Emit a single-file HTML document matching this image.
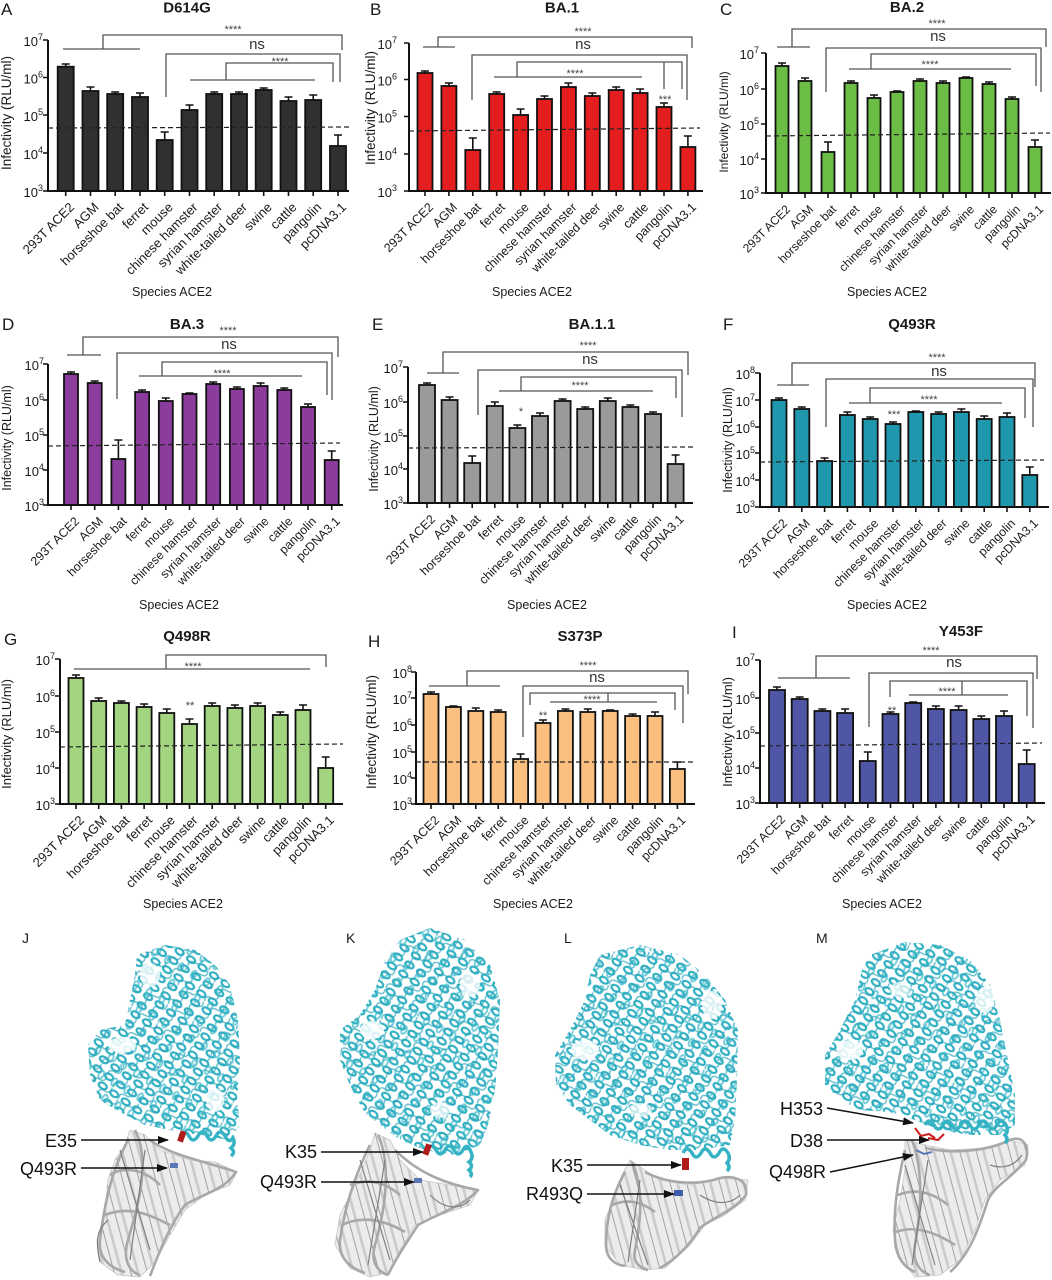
<!DOCTYPE html>
<html><head><meta charset="utf-8"><style>
html,body{margin:0;padding:0;background:#fff}
svg{display:block}
text{font-family:"Liberation Sans",Arial,sans-serif;fill:#1a1a1a}
.ax{fill:none;stroke:#111;stroke-width:2}
.tk{fill:none;stroke:#111;stroke-width:1.6}
.b rect{stroke:#111;stroke-width:1.8}
.eb{fill:none;stroke:#111;stroke-width:1.6}
.br{fill:none;stroke:#555;stroke-width:1.3}
.ds{fill:none;stroke:#222;stroke-width:1.2;stroke-dasharray:5 3}
.ti{font-size:15px;font-weight:bold}
.pl{font-size:17px}
.st{font-size:11px;fill:#444}
.ns{font-size:15px;fill:#333}
.yt{font-size:13px}
.sp{font-size:12.5px}
.lb{font-size:18px;fill:#111}
.ar{stroke:#111;stroke-width:1.5;fill:none}
.gr{fill:none;stroke:#a8a8a8;stroke-width:2.6;stroke-linejoin:round}
.gr2{fill:none;stroke:#7f7f7f;stroke-width:1.2}
.gf{fill:#ececec;stroke:#cfcfcf;stroke-width:1}
</style></head><body>
<svg width="1052" height="1280" viewBox="0 0 1052 1280" xmlns="http://www.w3.org/2000/svg">
<defs>
<pattern id="hx" width="14" height="11" patternUnits="userSpaceOnUse" patternTransform="rotate(35)">
<ellipse cx="7" cy="5.5" rx="4.5" ry="2.8" fill="none" stroke="#2fb0c2" stroke-width="2.2"/>
</pattern>
<pattern id="hx3" width="19" height="15" patternUnits="userSpaceOnUse" patternTransform="rotate(-60) translate(4,3)">
<ellipse cx="9" cy="7" rx="4" ry="2.4" fill="none" stroke="#3cb8c9" stroke-width="2"/>
</pattern>
<pattern id="hx2" width="17" height="13" patternUnits="userSpaceOnUse" patternTransform="rotate(-25)">
<path d="M0,6 q4,-6 8,0 t8,0" fill="none" stroke="#2aa5b8" stroke-width="1.5"/>
</pattern>
<pattern id="gy" width="12" height="16" patternUnits="userSpaceOnUse" patternTransform="rotate(75)">
<path d="M0,4 H12" stroke="#c9c9c9" stroke-width="2.5"/>
<path d="M0,11 H12" stroke="#9a9a9a" stroke-width="0.9"/>
</pattern>
<marker id="ah" markerWidth="11" markerHeight="8" refX="10" refY="4" orient="auto" markerUnits="userSpaceOnUse"><path d="M0,0 L11,4 L0,8 z" fill="#111"/></marker>
</defs>
<rect width="1052" height="1280" fill="#fff"/>

<!-- ================= PANEL A ================= -->
<text class="pl" x="1" y="15">A</text>
<text class="ti" x="187" y="12.5" text-anchor="middle">D614G</text>
<text transform="translate(11,113) rotate(-90)" text-anchor="middle" font-size="13.5">Infectivity (RLU/ml)</text>
<g class="yt" text-anchor="end">
<text x="43" y="46">10<tspan font-size="9" dy="-6">7</tspan></text>
<text x="43" y="83.5">10<tspan font-size="9" dy="-6">6</tspan></text>
<text x="43" y="121">10<tspan font-size="9" dy="-6">5</tspan></text>
<text x="43" y="159">10<tspan font-size="9" dy="-6">4</tspan></text>
<text x="43" y="197">10<tspan font-size="9" dy="-6">3</tspan></text>
</g>
<g class="b" fill="#303030">
<rect x="57.7" y="66.7" width="16" height="124.3"/><rect x="82.5" y="91" width="16" height="100"/><rect x="107.2" y="94" width="16" height="97"/><rect x="132" y="97" width="16" height="94"/><rect x="156.7" y="140" width="16" height="51"/><rect x="181.5" y="110" width="16" height="81"/><rect x="206.2" y="94" width="16" height="97"/><rect x="231" y="94" width="16" height="97"/><rect x="255.7" y="90" width="16" height="101"/><rect x="280.5" y="101" width="16" height="90"/><rect x="305.2" y="100" width="16" height="91"/><rect x="330" y="146" width="16" height="45"/>
</g>
<path class="eb" d="M65.7,66.7V64M61.7,64h8M90.5,91V87M86.5,87h8M115.2,94V92M111.2,92h8M140,97V93M136,93h8M164.7,140V132M160.7,132h8M189.5,110V105M185.5,105h8M214.2,94V92M210.2,92h8M239,94V92M235,92h8M263.7,90V88M259.7,88h8M288.5,101V97M284.5,97h8M313.2,100V95M309.2,95h8M338,146V135M334,135h8"/>
<path class="ax" d="M48,40V191H349"/>
<path class="tk" d="M43,40H48M43,77.5H48M43,115H48M43,153H48M43,191H48M65.7,191v5M90.5,191v5M115.2,191v5M140,191v5M164.7,191v5M189.5,191v5M214.2,191v5M239,191v5M263.7,191v5M288.5,191v5M313.2,191v5M338,191v5"/>
<path class="ds" d="M48,128L352,127"/>
<path class="br" d="M63,49H140M103,49V35H342V50M166,97V54H340V82M190,80H315M226,80V63H333V82"/>
<text class="st" x="233" y="33" text-anchor="middle">****</text>
<text class="ns" x="257" y="49" text-anchor="middle">ns</text>
<text class="st" x="280" y="65" text-anchor="middle">****</text>
<g font-size="13" text-anchor="end">
<text transform="translate(75,208) rotate(-45)">293T ACE2</text>
<text transform="translate(99.5,208) rotate(-45)">AGM</text>
<text transform="translate(124.2,208) rotate(-45)">horseshoe bat</text>
<text transform="translate(149,208) rotate(-45)">ferret</text>
<text transform="translate(173.7,208) rotate(-45)">mouse</text>
<text transform="translate(198.5,208) rotate(-45)">chinese hamster</text>
<text transform="translate(223.2,208) rotate(-45)">syrian hamster</text>
<text transform="translate(248,208) rotate(-45)">white-tailed deer</text>
<text transform="translate(272.7,208) rotate(-45)">swine</text>
<text transform="translate(297.5,208) rotate(-45)">cattle</text>
<text transform="translate(322.2,208) rotate(-45)">pangolin</text>
<text transform="translate(347,208) rotate(-45)">pcDNA3.1</text>
</g>
<text class="sp" x="172" y="296" text-anchor="middle">Species ACE2</text>

<!-- ================= PANEL B ================= -->
<text class="pl" x="370" y="15">B</text>
<text class="ti" x="562" y="12.5" text-anchor="middle">BA.1</text>
<text transform="translate(375,108) rotate(-90)" text-anchor="middle" font-size="13.5">Infectivity (RLU/ml)</text>
<g class="yt" text-anchor="end">
<text x="397" y="49">10<tspan font-size="9" dy="-6">7</tspan></text>
<text x="397" y="85.5">10<tspan font-size="9" dy="-6">6</tspan></text>
<text x="397" y="122.5">10<tspan font-size="9" dy="-6">5</tspan></text>
<text x="397" y="160">10<tspan font-size="9" dy="-6">4</tspan></text>
<text x="397" y="197">10<tspan font-size="9" dy="-6">3</tspan></text>
</g>
<g class="b" fill="#e41e1e">
<rect x="417.5" y="73" width="15" height="118"/><rect x="441.4" y="86" width="15" height="105"/><rect x="465.3" y="150" width="15" height="41"/><rect x="489.2" y="94" width="15" height="97"/><rect x="513.1" y="115" width="15" height="76"/><rect x="537" y="99" width="15" height="92"/><rect x="560.9" y="87" width="15" height="104"/><rect x="584.8" y="96" width="15" height="95"/><rect x="608.7" y="90" width="15" height="101"/><rect x="632.6" y="93" width="15" height="98"/><rect x="656.5" y="107" width="15" height="84"/><rect x="680.4" y="147" width="15" height="44"/>
</g>
<path class="eb" d="M425,73V71M421,71h8M448.9,86V83M444.9,83h8M472.8,150V138M468.8,138h8M496.7,94V92M492.7,92h8M520.6,115V109M516.6,109h8M544.5,99V96M540.5,96h8M568.4,87V83M564.4,83h8M592.3,96V93M588.3,93h8M616.2,90V87M612.2,87h8M640.1,93V89M636.1,89h8M664,107V103M660,103h8M687.9,147V136M683.9,136h8"/>
<path class="ax" d="M409,43V191H703"/>
<path class="tk" d="M404,43H409M404,79.5H409M404,116.5H409M404,154H409M404,191H409M425,191v5M448.9,191v5M472.8,191v5M496.7,191v5M520.6,191v5M544.5,191v5M568.4,191v5M592.3,191v5M616.2,191v5M640.1,191v5M664,191v5M687.9,191v5"/>
<path class="ds" d="M409,131L700,128"/>
<path class="br" d="M423,47H455M438,47V37H692V48M472,100V55H687V100M494,77H642M517,77V62H682V89M664,62V89"/>
<text class="st" x="583" y="35" text-anchor="middle">****</text>
<text class="ns" x="583" y="49" text-anchor="middle">ns</text>
<text class="st" x="575" y="77" text-anchor="middle">****</text>
<text class="st" x="665" y="103" text-anchor="middle">***</text>
<g font-size="12.5" text-anchor="end">
<text transform="translate(434,208) rotate(-45)">293T ACE2</text>
<text transform="translate(457.9,208) rotate(-45)">AGM</text>
<text transform="translate(481.8,208) rotate(-45)">horseshoe bat</text>
<text transform="translate(505.7,208) rotate(-45)">ferret</text>
<text transform="translate(529.6,208) rotate(-45)">mouse</text>
<text transform="translate(553.5,208) rotate(-45)">chinese hamster</text>
<text transform="translate(577.4,208) rotate(-45)">syrian hamster</text>
<text transform="translate(601.3,208) rotate(-45)">white-tailed deer</text>
<text transform="translate(625.2,208) rotate(-45)">swine</text>
<text transform="translate(649.1,208) rotate(-45)">cattle</text>
<text transform="translate(673,208) rotate(-45)">pangolin</text>
<text transform="translate(696.9,208) rotate(-45)">pcDNA3.1</text>
</g>
<text class="sp" x="532" y="296" text-anchor="middle">Species ACE2</text>

<!-- ================= PANEL C ================= -->
<text class="pl" x="720" y="15">C</text>
<text class="ti" x="907" y="12" text-anchor="middle">BA.2</text>
<text transform="translate(728,122) rotate(-90)" text-anchor="middle" font-size="12">Infectivity (RLU/ml)</text>
<g class="yt" text-anchor="end">
<text x="759" y="59">10<tspan font-size="9" dy="-6">7</tspan></text>
<text x="759" y="95">10<tspan font-size="9" dy="-6">6</tspan></text>
<text x="759" y="130">10<tspan font-size="9" dy="-6">5</tspan></text>
<text x="759" y="165">10<tspan font-size="9" dy="-6">4</tspan></text>
<text x="759" y="199">10<tspan font-size="9" dy="-6">3</tspan></text>
</g>
<g class="b" fill="#6cbd45">
<rect x="775.5" y="66" width="13" height="127"/><rect x="798.5" y="81" width="13" height="112"/><rect x="821.5" y="152" width="13" height="41"/><rect x="844.5" y="83" width="13" height="110"/><rect x="867.5" y="98" width="13" height="95"/><rect x="890.5" y="92" width="13" height="101"/><rect x="913.5" y="81" width="13" height="112"/><rect x="936.5" y="83" width="13" height="110"/><rect x="959.5" y="78" width="13" height="115"/><rect x="982.5" y="84" width="13" height="109"/><rect x="1005.5" y="99" width="13" height="94"/><rect x="1028.5" y="147" width="13" height="46"/>
</g>
<path class="eb" d="M782,66V63M778,63h8M805,81V78M801,78h8M828,152V142M824,142h8M851,83V81M847,81h8M874,98V95M870,95h8M897,92V91M893,91h8M920,81V79M916,79h8M943,83V81M939,81h8M966,78V77M962,77h8M989,84V82M985,82h8M1012,99V97M1008,97h8M1035,147V140M1031,140h8"/>
<path class="ax" d="M766,53V193H1051"/>
<path class="tk" d="M761,53H766M761,89H766M761,124H766M761,159H766M761,193H766M782,193v5M805,193v5M828,193v5M851,193v5M874,193v5M897,193v5M920,193v5M943,193v5M966,193v5M989,193v5M1012,193v5M1035,193v5"/>
<path class="ds" d="M766,136L1050,133"/>
<path class="br" d="M777,47H810M792,47V29H1046V47M826,92V48H1041V92M849,69H1011M871,69V54H1036V86"/>
<text class="st" x="937" y="27" text-anchor="middle">****</text>
<text class="ns" x="938" y="41" text-anchor="middle">ns</text>
<text class="st" x="930" y="68" text-anchor="middle">****</text>
<g font-size="12" text-anchor="end">
<text transform="translate(791,210) rotate(-45)">293T ACE2</text>
<text transform="translate(814,210) rotate(-45)">AGM</text>
<text transform="translate(837,210) rotate(-45)">horseshoe bat</text>
<text transform="translate(860,210) rotate(-45)">ferret</text>
<text transform="translate(883,210) rotate(-45)">mouse</text>
<text transform="translate(906,210) rotate(-45)">chinese hamster</text>
<text transform="translate(929,210) rotate(-45)">syrian hamster</text>
<text transform="translate(952,210) rotate(-45)">white-tailed deer</text>
<text transform="translate(975,210) rotate(-45)">swine</text>
<text transform="translate(998,210) rotate(-45)">cattle</text>
<text transform="translate(1021,210) rotate(-45)">pangolin</text>
<text transform="translate(1044,210) rotate(-45)">pcDNA3.1</text>
</g>
<text class="sp" x="887" y="296" text-anchor="middle">Species ACE2</text>

<!-- ================= PANEL D ================= -->
<text class="pl" x="2" y="330">D</text>
<text class="ti" x="187" y="329" text-anchor="middle">BA.3</text>
<text transform="translate(11,438) rotate(-90)" text-anchor="middle" font-size="12.5">Infectivity (RLU/ml)</text>
<g class="yt" text-anchor="end">
<text x="44" y="370">10<tspan font-size="9" dy="-6">7</tspan></text>
<text x="44" y="406">10<tspan font-size="9" dy="-6">6</tspan></text>
<text x="44" y="441">10<tspan font-size="9" dy="-6">5</tspan></text>
<text x="44" y="476">10<tspan font-size="9" dy="-6">4</tspan></text>
<text x="44" y="511">10<tspan font-size="9" dy="-6">3</tspan></text>
</g>
<g class="b" fill="#8b3c9c">
<rect x="64" y="374" width="14" height="131"/><rect x="87.7" y="383" width="14" height="122"/><rect x="111.4" y="459" width="14" height="46"/><rect x="135.1" y="392" width="14" height="113"/><rect x="158.8" y="401" width="14" height="104"/><rect x="182.5" y="394" width="14" height="111"/><rect x="206.2" y="384" width="14" height="121"/><rect x="229.9" y="389" width="14" height="116"/><rect x="253.6" y="386" width="14" height="119"/><rect x="277.3" y="390" width="14" height="115"/><rect x="301" y="407" width="14" height="98"/><rect x="324.7" y="460" width="14" height="45"/>
</g>
<path class="eb" d="M71,374V372M67,372h8M94.7,383V381M90.7,381h8M118.4,459V440M114.4,440h8M142.1,392V390M138.1,390h8M165.8,401V398M161.8,398h8M189.5,394V393M185.5,393h8M213.2,384V382M209.2,382h8M236.9,389V387M232.9,387h8M260.6,386V383M256.6,383h8M284.3,390V388M280.3,388h8M308,407V404M304,404h8M331.7,460V451M327.7,451h8"/>
<path class="ax" d="M48,364V505H343"/>
<path class="tk" d="M43,364H48M43,400H48M43,435H48M43,470H48M43,505H48M71,505v5M94.7,505v5M118.4,505v5M142.1,505v5M165.8,505v5M189.5,505v5M213.2,505v5M236.9,505v5M260.6,505v5M284.3,505v5M308,505v5M331.7,505v5"/>
<path class="ds" d="M48,446L340,443"/>
<path class="br" d="M67,355H101M83,355V337H338V357M117,399V353H332V400M139,376H302M162,376V362H327V395"/>
<text class="st" x="228" y="334" text-anchor="middle">****</text>
<text class="ns" x="229" y="349" text-anchor="middle">ns</text>
<text class="st" x="222" y="377" text-anchor="middle">****</text>
<g font-size="12.3" text-anchor="end">
<text transform="translate(80,522) rotate(-45)">293T ACE2</text>
<text transform="translate(103.7,522) rotate(-45)">AGM</text>
<text transform="translate(127.4,522) rotate(-45)">horseshoe bat</text>
<text transform="translate(151.1,522) rotate(-45)">ferret</text>
<text transform="translate(174.8,522) rotate(-45)">mouse</text>
<text transform="translate(198.5,522) rotate(-45)">chinese hamster</text>
<text transform="translate(222.2,522) rotate(-45)">syrian hamster</text>
<text transform="translate(245.9,522) rotate(-45)">white-tailed deer</text>
<text transform="translate(269.6,522) rotate(-45)">swine</text>
<text transform="translate(293.3,522) rotate(-45)">cattle</text>
<text transform="translate(317,522) rotate(-45)">pangolin</text>
<text transform="translate(340.7,522) rotate(-45)">pcDNA3.1</text>
</g>
<text class="sp" x="179" y="609" text-anchor="middle">Species ACE2</text>

<!-- ================= PANEL E ================= -->
<text class="pl" x="372" y="330">E</text>
<text class="ti" x="592" y="329" text-anchor="middle">BA.1.1</text>
<text transform="translate(378,439) rotate(-90)" text-anchor="middle" font-size="12.5">Infectivity (RLU/ml)</text>
<g class="yt" text-anchor="end">
<text x="403" y="373">10<tspan font-size="9" dy="-6">7</tspan></text>
<text x="403" y="408">10<tspan font-size="9" dy="-6">6</tspan></text>
<text x="403" y="442">10<tspan font-size="9" dy="-6">5</tspan></text>
<text x="403" y="475">10<tspan font-size="9" dy="-6">4</tspan></text>
<text x="403" y="509">10<tspan font-size="9" dy="-6">3</tspan></text>
</g>
<g class="b" fill="#9a9a9a">
<rect x="419" y="385" width="16" height="118"/><rect x="441.6" y="400" width="16" height="103"/><rect x="464.2" y="463" width="16" height="40"/><rect x="486.8" y="406" width="16" height="97"/><rect x="509.4" y="428" width="16" height="75"/><rect x="532" y="416" width="16" height="87"/><rect x="554.6" y="401" width="16" height="102"/><rect x="577.2" y="409" width="16" height="94"/><rect x="599.8" y="401" width="16" height="102"/><rect x="622.4" y="407" width="16" height="96"/><rect x="645" y="414" width="16" height="89"/><rect x="667.6" y="464" width="16" height="39"/>
</g>
<path class="eb" d="M427,385V383M423,383h8M449.6,400V397M445.6,397h8M472.2,463V456M468.2,456h8M494.8,406V402M490.8,402h8M517.4,428V425M513.4,425h8M540,416V413M536,413h8M562.6,401V399M558.6,399h8M585.2,409V407M581.2,407h8M607.8,401V398M603.8,398h8M630.4,407V405M626.4,405h8M653,414V412M649,412h8M675.6,464V455M671.6,455h8"/>
<path class="ax" d="M408,367V503H693"/>
<path class="tk" d="M403,367H408M403,402H408M403,436H408M403,469H408M403,503H408M427,503v5M449.6,503v5M472.2,503v5M494.8,503v5M517.4,503v5M540,503v5M562.6,503v5M585.2,503v5M607.8,503v5M630.4,503v5M653,503v5M675.6,503v5"/>
<path class="ds" d="M408,448L693,447"/>
<path class="br" d="M427,373H459M443,373V352H688V375M478,415V370H682V417M499,391H653M521,391V377H676V398"/>
<text class="st" x="588" y="349" text-anchor="middle">****</text>
<text class="ns" x="590" y="364" text-anchor="middle">ns</text>
<text class="st" x="580" y="389" text-anchor="middle">****</text>
<text class="st" x="521" y="415" text-anchor="middle">*</text>
<g font-size="12.5" text-anchor="end">
<text transform="translate(436,520) rotate(-45)">293T ACE2</text>
<text transform="translate(458.6,520) rotate(-45)">AGM</text>
<text transform="translate(481.2,520) rotate(-45)">horseshoe bat</text>
<text transform="translate(503.8,520) rotate(-45)">ferret</text>
<text transform="translate(526.4,520) rotate(-45)">mouse</text>
<text transform="translate(549,520) rotate(-45)">chinese hamster</text>
<text transform="translate(571.6,520) rotate(-45)">syrian hamster</text>
<text transform="translate(594.2,520) rotate(-45)">white-tailed deer</text>
<text transform="translate(616.8,520) rotate(-45)">swine</text>
<text transform="translate(639.4,520) rotate(-45)">cattle</text>
<text transform="translate(662,520) rotate(-45)">pangolin</text>
<text transform="translate(684.6,520) rotate(-45)">pcDNA3.1</text>
</g>
<text class="sp" x="547" y="609" text-anchor="middle">Species ACE2</text>

<!-- ================= PANEL F ================= -->
<text class="pl" x="723" y="330">F</text>
<text class="ti" x="912" y="329" text-anchor="middle">Q493R</text>
<text transform="translate(732,440) rotate(-90)" text-anchor="middle" font-size="12.5">Infectivity (RLU/ml)</text>
<g class="yt" text-anchor="end">
<text x="755" y="379">10<tspan font-size="9" dy="-6">8</tspan></text>
<text x="755" y="406">10<tspan font-size="9" dy="-6">7</tspan></text>
<text x="755" y="433">10<tspan font-size="9" dy="-6">6</tspan></text>
<text x="755" y="459">10<tspan font-size="9" dy="-6">5</tspan></text>
<text x="755" y="486">10<tspan font-size="9" dy="-6">4</tspan></text>
<text x="755" y="513">10<tspan font-size="9" dy="-6">3</tspan></text>
</g>
<g class="b" fill="#1f98ad">
<rect x="771.5" y="400" width="15" height="107"/><rect x="794.3" y="409" width="15" height="98"/><rect x="817.1" y="461" width="15" height="46"/><rect x="839.9" y="415" width="15" height="92"/><rect x="862.7" y="419" width="15" height="88"/><rect x="885.5" y="424" width="15" height="83"/><rect x="908.3" y="412" width="15" height="95"/><rect x="931.1" y="414" width="15" height="93"/><rect x="953.9" y="412" width="15" height="95"/><rect x="976.7" y="419" width="15" height="88"/><rect x="999.5" y="417" width="15" height="90"/><rect x="1022.3" y="475" width="15" height="32"/>
</g>
<path class="eb" d="M779,400V398M775,398h8M801.8,409V407M797.8,407h8M824.6,461V458M820.6,458h8M847.4,415V412M843.4,412h8M870.2,419V417M866.2,417h8M893,424V422M889,422h8M915.8,412V411M911.8,411h8M938.6,414V412M934.6,412h8M961.4,412V409M957.4,409h8M984.2,419V416M980.2,416h8M1007,417V413M1003,413h8M1029.8,475V467M1025.8,467h8"/>
<path class="ax" d="M760,373V507H1049"/>
<path class="tk" d="M755,373H760M755,400H760M755,427H760M755,453H760M755,480H760M755,507H760M779,507v5M801.8,507v5M824.6,507v5M847.4,507v5M870.2,507v5M893,507v5M915.8,507v5M938.6,507v5M961.4,507v5M984.2,507v5M1007,507v5M1029.8,507v5"/>
<path class="ds" d="M760,462L1044,460"/>
<path class="br" d="M777,385H809M792,385V363H1035V387M826,427V379H1033V427M849,403H1002M870,403V388H1025V418"/>
<text class="st" x="937" y="361" text-anchor="middle">****</text>
<text class="ns" x="939" y="376" text-anchor="middle">ns</text>
<text class="st" x="929" y="403" text-anchor="middle">****</text>
<text class="st" x="894" y="418" text-anchor="middle">***</text>
<g font-size="12.3" text-anchor="end">
<text transform="translate(788,524) rotate(-45)">293T ACE2</text>
<text transform="translate(810.8,524) rotate(-45)">AGM</text>
<text transform="translate(833.6,524) rotate(-45)">horseshoe bat</text>
<text transform="translate(856.4,524) rotate(-45)">ferret</text>
<text transform="translate(879.2,524) rotate(-45)">mouse</text>
<text transform="translate(902,524) rotate(-45)">chinese hamster</text>
<text transform="translate(924.8,524) rotate(-45)">syrian hamster</text>
<text transform="translate(947.6,524) rotate(-45)">white-tailed deer</text>
<text transform="translate(970.4,524) rotate(-45)">swine</text>
<text transform="translate(993.2,524) rotate(-45)">cattle</text>
<text transform="translate(1016,524) rotate(-45)">pangolin</text>
<text transform="translate(1038.8,524) rotate(-45)">pcDNA3.1</text>
</g>
<text class="sp" x="887" y="609" text-anchor="middle">Species ACE2</text>

<!-- ================= PANEL G ================= -->
<text class="pl" x="4" y="645">G</text>
<text class="ti" x="187" y="641" text-anchor="middle">Q498R</text>
<text transform="translate(11,734) rotate(-90)" text-anchor="middle" font-size="13">Infectivity (RLU/ml)</text>
<g class="yt" text-anchor="end">
<text x="55" y="665">10<tspan font-size="9" dy="-6">7</tspan></text>
<text x="55" y="702">10<tspan font-size="9" dy="-6">6</tspan></text>
<text x="55" y="738">10<tspan font-size="9" dy="-6">5</tspan></text>
<text x="55" y="774">10<tspan font-size="9" dy="-6">4</tspan></text>
<text x="55" y="810">10<tspan font-size="9" dy="-6">3</tspan></text>
</g>
<g class="b" fill="#a3d47f">
<rect x="68.5" y="678" width="15" height="126"/><rect x="91.2" y="701" width="15" height="103"/><rect x="113.9" y="703" width="15" height="101"/><rect x="136.6" y="707" width="15" height="97"/><rect x="159.3" y="713" width="15" height="91"/><rect x="182" y="724" width="15" height="80"/><rect x="204.7" y="706" width="15" height="98"/><rect x="227.4" y="708" width="15" height="96"/><rect x="250.1" y="706" width="15" height="98"/><rect x="272.8" y="715" width="15" height="89"/><rect x="295.5" y="710" width="15" height="94"/><rect x="318.2" y="768" width="15" height="36"/>
</g>
<path class="eb" d="M76,678V675M72,675h8M98.7,701V698M94.7,698h8M121.4,703V701M117.4,701h8M144.1,707V704M140.1,704h8M166.8,713V709M162.8,709h8M189.5,724V719M185.5,719h8M212.2,706V703M208.2,703h8M234.9,708V705M230.9,705h8M257.6,706V703M253.6,703h8M280.3,715V712M276.3,712h8M303,710V705M299,705h8M325.7,768V757M321.7,757h8"/>
<path class="ax" d="M60,659V804H343"/>
<path class="tk" d="M55,659H60M55,696H60M55,732H60M55,768H60M55,804H60M76,804v5M98.7,804v5M121.4,804v5M144.1,804v5M166.8,804v5M189.5,804v5M212.2,804v5M234.9,804v5M257.6,804v5M280.3,804v5M303,804v5M325.7,804v5"/>
<path class="ds" d="M60,747L343,744"/>
<path class="br" d="M74,669H310M166,669V655H326V667"/>
<text class="st" x="193" y="670" text-anchor="middle">****</text>
<text class="st" x="190" y="709" text-anchor="middle">**</text>
<g font-size="13" text-anchor="end">
<text transform="translate(85,821) rotate(-45)">293T ACE2</text>
<text transform="translate(107.7,821) rotate(-45)">AGM</text>
<text transform="translate(130.4,821) rotate(-45)">horseshoe bat</text>
<text transform="translate(153.1,821) rotate(-45)">ferret</text>
<text transform="translate(175.8,821) rotate(-45)">mouse</text>
<text transform="translate(198.5,821) rotate(-45)">chinese hamster</text>
<text transform="translate(221.2,821) rotate(-45)">syrian hamster</text>
<text transform="translate(243.9,821) rotate(-45)">white-tailed deer</text>
<text transform="translate(266.6,821) rotate(-45)">swine</text>
<text transform="translate(289.3,821) rotate(-45)">cattle</text>
<text transform="translate(312,821) rotate(-45)">pangolin</text>
<text transform="translate(334.7,821) rotate(-45)">pcDNA3.1</text>
</g>
<text class="sp" x="183" y="908" text-anchor="middle">Species ACE2</text>

<!-- ================= PANEL H ================= -->
<text class="pl" x="368" y="647">H</text>
<text class="ti" x="580" y="641" text-anchor="middle">S373P</text>
<text transform="translate(376,732) rotate(-90)" text-anchor="middle" font-size="13.5">Infectivity (RLU/ml)</text>
<g class="yt" text-anchor="end">
<text x="412" y="678">10<tspan font-size="9" dy="-6">8</tspan></text>
<text x="412" y="704">10<tspan font-size="9" dy="-6">7</tspan></text>
<text x="412" y="731">10<tspan font-size="9" dy="-6">6</tspan></text>
<text x="412" y="758">10<tspan font-size="9" dy="-6">5</tspan></text>
<text x="412" y="784">10<tspan font-size="9" dy="-6">4</tspan></text>
<text x="412" y="810">10<tspan font-size="9" dy="-6">3</tspan></text>
</g>
<g class="b" fill="#fbbf7f">
<rect x="423.5" y="694" width="15" height="110"/><rect x="445.9" y="707" width="15" height="97"/><rect x="468.3" y="711" width="15" height="93"/><rect x="490.7" y="712" width="15" height="92"/><rect x="513.1" y="759" width="15" height="45"/><rect x="535.5" y="723" width="15" height="81"/><rect x="557.9" y="711" width="15" height="93"/><rect x="580.3" y="712" width="15" height="92"/><rect x="602.7" y="711" width="15" height="93"/><rect x="625.1" y="716" width="15" height="88"/><rect x="647.5" y="716" width="15" height="88"/><rect x="669.9" y="769" width="15" height="35"/>
</g>
<path class="eb" d="M431,694V692M427,692h8M453.4,707V706M449.4,706h8M475.8,711V708M471.8,708h8M498.2,712V710M494.2,710h8M520.6,759V754M516.6,754h8M543,723V720M539,720h8M565.4,711V709M561.4,709h8M587.8,712V709M583.8,709h8M610.2,711V710M606.2,710h8M632.6,716V714M628.6,714h8M655,716V712M651,712h8M677.4,769V762M673.4,762h8"/>
<path class="ax" d="M416,672V804H695"/>
<path class="tk" d="M411,672H416M411,698H416M411,725H416M411,752H416M411,778H416M411,804H416M431,804v5M453.4,804v5M475.8,804v5M498.2,804v5M520.6,804v5M543,804v5M565.4,804v5M587.8,804v5M610.2,804v5M632.6,804v5M655,804v5M677.4,804v5"/>
<path class="ds" d="M416,762L695,762"/>
<path class="br" d="M429,686H500M467,686V671H688V694M523,737V686H683V723M530,705V693H675V710M550,702H657M608,693V702"/>
<text class="st" x="588" y="669" text-anchor="middle">****</text>
<text class="ns" x="597" y="682" text-anchor="middle">ns</text>
<text class="st" x="592" y="703" text-anchor="middle">****</text>
<text class="st" x="543" y="719" text-anchor="middle">**</text>
<g font-size="12.5" text-anchor="end">
<text transform="translate(440,821) rotate(-45)">293T ACE2</text>
<text transform="translate(462.4,821) rotate(-45)">AGM</text>
<text transform="translate(484.8,821) rotate(-45)">horseshoe bat</text>
<text transform="translate(507.2,821) rotate(-45)">ferret</text>
<text transform="translate(529.6,821) rotate(-45)">mouse</text>
<text transform="translate(552,821) rotate(-45)">chinese hamster</text>
<text transform="translate(574.4,821) rotate(-45)">syrian hamster</text>
<text transform="translate(596.8,821) rotate(-45)">white-tailed deer</text>
<text transform="translate(619.2,821) rotate(-45)">swine</text>
<text transform="translate(641.6,821) rotate(-45)">cattle</text>
<text transform="translate(664,821) rotate(-45)">pangolin</text>
<text transform="translate(686.4,821) rotate(-45)">pcDNA3.1</text>
</g>
<text class="sp" x="533" y="908" text-anchor="middle">Species ACE2</text>

<!-- ================= PANEL I ================= -->
<text class="pl" x="732" y="638">I</text>
<text class="ti" x="961" y="636" text-anchor="middle">Y453F</text>
<text transform="translate(732,732) rotate(-90)" text-anchor="middle" font-size="13">Infectivity (RLU/ml)</text>
<g class="yt" text-anchor="end">
<text x="755" y="666">10<tspan font-size="9" dy="-6">7</tspan></text>
<text x="755" y="704">10<tspan font-size="9" dy="-6">6</tspan></text>
<text x="755" y="739">10<tspan font-size="9" dy="-6">5</tspan></text>
<text x="755" y="774">10<tspan font-size="9" dy="-6">4</tspan></text>
<text x="755" y="809">10<tspan font-size="9" dy="-6">3</tspan></text>
</g>
<g class="b" fill="#4f56a6">
<rect x="769" y="690" width="16" height="113"/><rect x="791.7" y="699" width="16" height="104"/><rect x="814.4" y="711" width="16" height="92"/><rect x="837.1" y="713" width="16" height="90"/><rect x="859.8" y="761" width="16" height="42"/><rect x="882.5" y="714" width="16" height="89"/><rect x="905.2" y="703" width="16" height="100"/><rect x="927.9" y="709" width="16" height="94"/><rect x="950.6" y="710" width="16" height="93"/><rect x="973.3" y="719" width="16" height="84"/><rect x="996" y="716" width="16" height="87"/><rect x="1018.7" y="764" width="16" height="39"/>
</g>
<path class="eb" d="M777,690V687M773,687h8M799.7,699V697M795.7,697h8M822.4,711V709M818.4,709h8M845.1,713V709M841.1,709h8M867.8,761V752M863.8,752h8M890.5,714V712M886.5,712h8M913.2,703V702M909.2,702h8M935.9,709V706M931.9,706h8M958.6,710V706M954.6,706h8M981.3,719V716M977.3,716h8M1004,716V711M1000,711h8M1026.7,764V750M1022.7,750h8"/>
<path class="ax" d="M760,660V803H1045"/>
<path class="tk" d="M755,660H760M755,698H760M755,733H760M755,768H760M755,803H760M777,803v5M799.7,803v5M822.4,803v5M845.1,803v5M867.8,803v5M890.5,803v5M913.2,803v5M935.9,803v5M958.6,803v5M981.3,803v5M1004,803v5M1026.7,803v5"/>
<path class="ds" d="M760,746L1042,743"/>
<path class="br" d="M778,678H850M816,678V656H1037V679M869,727V673H1033V728M890,697V681H1027V716M909,695H1008M962,681V695"/>
<text class="st" x="931" y="654" text-anchor="middle">****</text>
<text class="ns" x="954" y="667" text-anchor="middle">ns</text>
<text class="st" x="947" y="695" text-anchor="middle">****</text>
<text class="st" x="892" y="714" text-anchor="middle">**</text>
<g font-size="12.3" text-anchor="end">
<text transform="translate(786,820) rotate(-45)">293T ACE2</text>
<text transform="translate(808.7,820) rotate(-45)">AGM</text>
<text transform="translate(831.4,820) rotate(-45)">horseshoe bat</text>
<text transform="translate(854.1,820) rotate(-45)">ferret</text>
<text transform="translate(876.8,820) rotate(-45)">mouse</text>
<text transform="translate(899.5,820) rotate(-45)">chinese hamster</text>
<text transform="translate(922.2,820) rotate(-45)">syrian hamster</text>
<text transform="translate(944.9,820) rotate(-45)">white-tailed deer</text>
<text transform="translate(967.6,820) rotate(-45)">swine</text>
<text transform="translate(990.3,820) rotate(-45)">cattle</text>
<text transform="translate(1013,820) rotate(-45)">pangolin</text>
<text transform="translate(1035.7,820) rotate(-45)">pcDNA3.1</text>
</g>
<text class="sp" x="882" y="908" text-anchor="middle">Species ACE2</text>

<!-- ================= STRUCTURES J-M ================= -->
<g font-size="14">
<text x="22" y="943">J</text>
<text x="346" y="943">K</text>
<text x="564" y="943">L</text>
<text x="816" y="943">M</text>
</g>

<!-- J -->
<g>
<path class="gf" d="M130,1130L145,1135L160,1150L190,1160L215,1162L237,1172L230,1185L205,1195L185,1210L170,1235L155,1262L140,1277L118,1275L100,1262L97,1240L105,1210L108,1180L115,1160L125,1145Z"/>
<path d="M130,1130L145,1135L160,1150L190,1160L215,1162L237,1172L230,1185L205,1195L185,1210L170,1235L155,1262L140,1277L118,1275L100,1262L97,1240L105,1210L108,1180L115,1160L125,1145Z" fill="url(#gy)"/>
<path class="gr" d="M135,1130 C150,1160 140,1200 128,1240 C122,1260 130,1272 140,1275 M128,1140 C112,1170 105,1200 100,1240 C98,1258 110,1268 125,1272 M150,1140 C170,1155 200,1160 236,1172 C225,1190 200,1195 185,1205 C170,1225 160,1250 150,1276 M110,1175 C125,1165 145,1170 160,1185 M105,1215 C130,1205 150,1215 170,1225"/>
<path class="gr2" d="M120,1150 L150,1250 M145,1150 L130,1260 M100,1262 C95,1240 97,1230 108,1220"/>
<path d="M137,955L165,945L195,950L215,965L230,985L238,1020L240,1060L237,1100L240,1125L230,1140L200,1135L170,1130L145,1125L120,1112L100,1100L90,1075L88,1045L100,1030L125,1025L130,1000L135,975Z" fill="url(#hx)"/>
<path d="M137,955L165,945L195,950L215,965L230,985L238,1020L240,1060L237,1100L240,1125L230,1140L200,1135L170,1130L145,1125L120,1112L100,1100L90,1075L88,1045L100,1030L125,1025L130,1000L135,975Z" fill="url(#hx3)" opacity="0.7"/>
<path d="M137,955L165,945L195,950L215,965L230,985L238,1020L240,1060L237,1100L240,1125L230,1140L200,1135L170,1130L145,1125L120,1112L100,1100L90,1075L88,1045L100,1030L125,1025L130,1000L135,975Z" fill="url(#hx2)" opacity="0.7"/>
<ellipse cx="122" cy="1045" rx="14" ry="8" fill="#fff" opacity="0.85"/>
<ellipse cx="215" cy="1100" rx="9" ry="12" fill="#fff" opacity="0.8"/>
<ellipse cx="150" cy="975" rx="10" ry="12" fill="#fff" opacity="0.8"/>
<path d="M180,1136 q4,-8 9,0 q4,8 9,0 q4,-8 9,0 q4,8 9,0 q4,-8 9,0 q4,8 8,2 q3,6 -2,10 q5,4 0,8" fill="none" stroke="#35b3c4" stroke-width="3.5"/>
<rect x="179" y="1131" width="6" height="11" fill="#b01c1c" transform="rotate(20 182 1136)"/>
<rect x="170" y="1163" width="8" height="5" fill="#5a78b8"/>
</g>
<text class="lb" x="77" y="1147" text-anchor="end">E35</text>
<text class="lb" x="77" y="1175" text-anchor="end">Q493R</text>
<path class="ar" d="M81,1140H168" marker-end="url(#ah)"/>
<path class="ar" d="M81,1168H167" marker-end="url(#ah)"/>

<!-- K -->
<g>
<path class="gf" d="M375,1133L390,1140L400,1160L420,1180L450,1185L478,1190L470,1205L440,1215L415,1225L400,1250L390,1272L370,1277L350,1268L335,1245L340,1215L350,1195L362,1170L370,1150Z"/>
<path d="M375,1133L390,1140L400,1160L420,1180L450,1185L478,1190L470,1205L440,1215L415,1225L400,1250L390,1272L370,1277L350,1268L335,1245L340,1215L350,1195L362,1170L370,1150Z" fill="url(#gy)"/>
<path class="gr" d="M378,1135 C392,1165 385,1210 375,1245 C370,1262 378,1272 388,1275 M370,1145 C355,1175 345,1205 340,1240 C338,1258 350,1268 365,1273 M395,1150 C420,1175 450,1185 478,1190 C465,1205 440,1213 418,1225 C405,1245 395,1260 388,1275 M350,1185 C368,1178 385,1182 400,1195 M342,1225 C362,1215 385,1220 405,1232"/>
<path class="gr2" d="M360,1160 L390,1260 M385,1160 L368,1265 M430,1195 C445,1210 460,1210 470,1200"/>
<path d="M400,940L430,928L465,940L490,965L500,1000L498,1050L495,1090L488,1125L480,1145L455,1155L425,1150L400,1140L380,1125L365,1113L352,1090L340,1060L340,1030L360,1015L375,990L385,960Z" fill="url(#hx)"/>
<path d="M400,940L430,928L465,940L490,965L500,1000L498,1050L495,1090L488,1125L480,1145L455,1155L425,1150L400,1140L380,1125L365,1113L352,1090L340,1060L340,1030L360,1015L375,990L385,960Z" fill="url(#hx3)" opacity="0.7"/>
<path d="M400,940L430,928L465,940L490,965L500,1000L498,1050L495,1090L488,1125L480,1145L455,1155L425,1150L400,1140L380,1125L365,1113L352,1090L340,1060L340,1030L360,1015L375,990L385,960Z" fill="url(#hx2)" opacity="0.7"/>
<ellipse cx="372" cy="1030" rx="12" ry="9" fill="#fff" opacity="0.85"/>
<ellipse cx="470" cy="985" rx="10" ry="12" fill="#fff" opacity="0.8"/>
<ellipse cx="440" cy="1110" rx="10" ry="8" fill="#fff" opacity="0.75"/>
<path d="M427,1150 q4,-8 9,0 q4,8 9,0 q4,-8 9,0 q4,8 9,0 q4,-8 8,2 q3,6 -2,10 q5,4 0,8 q4,4 1,7" fill="none" stroke="#35b3c4" stroke-width="3.5"/>
<rect x="424" y="1144" width="6" height="11" fill="#b01c1c" transform="rotate(20 427 1150)"/>
<rect x="414" y="1178" width="8" height="5" fill="#5a78b8"/>
</g>
<text class="lb" x="317" y="1158" text-anchor="end">K35</text>
<text class="lb" x="317" y="1188" text-anchor="end">Q493R</text>
<path class="ar" d="M321,1152H423" marker-end="url(#ah)"/>
<path class="ar" d="M321,1182H414" marker-end="url(#ah)"/>

<!-- L -->
<g>
<path class="gf" d="M630,1160L645,1170L660,1180L690,1185L720,1178L748,1180L745,1200L725,1215L705,1225L690,1245L665,1268L645,1270L620,1265L605,1245L605,1220L615,1195L622,1175Z"/>
<path d="M630,1160L645,1170L660,1180L690,1185L720,1178L748,1180L745,1200L725,1215L705,1225L690,1245L665,1268L645,1270L620,1265L605,1245L605,1220L615,1195L622,1175Z" fill="url(#gy)"/>
<path class="gr" d="M632,1162 C645,1190 640,1225 635,1250 C632,1262 640,1268 648,1270 M625,1172 C612,1195 606,1220 606,1245 C606,1258 615,1265 625,1266 M645,1172 C670,1185 700,1185 720,1178 C735,1175 748,1180 746,1195 C735,1210 712,1218 700,1228 C690,1245 675,1260 660,1268 M612,1205 C628,1198 642,1202 655,1212"/>
<path class="gr2" d="M620,1185 L648,1265 M640,1180 L628,1262 M700,1195 C715,1205 730,1205 740,1195"/>
<path d="M600,955L640,945L680,955L705,975L725,1000L738,1030L737,1080L735,1120L730,1145L700,1150L670,1150L640,1145L610,1135L590,1120L570,1105L556,1085L555,1055L570,1030L585,1000L590,975Z" fill="url(#hx)"/>
<path d="M600,955L640,945L680,955L705,975L725,1000L738,1030L737,1080L735,1120L730,1145L700,1150L670,1150L640,1145L610,1135L590,1120L570,1105L556,1085L555,1055L570,1030L585,1000L590,975Z" fill="url(#hx3)" opacity="0.7"/>
<path d="M600,955L640,945L680,955L705,975L725,1000L738,1030L737,1080L735,1120L730,1145L700,1150L670,1150L640,1145L610,1135L590,1120L570,1105L556,1085L555,1055L570,1030L585,1000L590,975Z" fill="url(#hx2)" opacity="0.7"/>
<ellipse cx="585" cy="1050" rx="14" ry="10" fill="#fff" opacity="0.85"/>
<ellipse cx="712" cy="1005" rx="10" ry="14" fill="#fff" opacity="0.8"/>
<ellipse cx="640" cy="1110" rx="12" ry="7" fill="#fff" opacity="0.7"/>
<path d="M683,1153 q4,-8 9,0 q4,8 9,0 q4,-8 9,0 q4,8 9,0 q4,-8 9,0 q3,6 -1,10 q4,4 0,8" fill="none" stroke="#35b3c4" stroke-width="3.5"/>
<rect x="682" y="1158" width="7" height="12" fill="#b01c1c"/>
<rect x="674" y="1190" width="9" height="6" fill="#3f5fae"/>
</g>
<text class="lb" x="583" y="1172" text-anchor="end">K35</text>
<text class="lb" x="583" y="1200" text-anchor="end">R493Q</text>
<path class="ar" d="M587,1165H681" marker-end="url(#ah)"/>
<path class="ar" d="M587,1194H674" marker-end="url(#ah)"/>

<!-- M -->
<g>
<path class="gf" d="M905,1140L925,1145L950,1150L985,1148L1010,1140L1028,1145L1025,1165L1000,1180L985,1200L975,1230L960,1260L940,1275L915,1277L900,1258L893,1230L900,1200L905,1170Z"/>
<path d="M905,1140L925,1145L950,1150L985,1148L1010,1140L1028,1145L1025,1165L1000,1180L985,1200L975,1230L960,1260L940,1275L915,1277L900,1258L893,1230L900,1200L905,1170Z" fill="url(#gy)"/>
<path class="gr" d="M912,1140 C925,1175 920,1215 915,1245 C912,1262 920,1272 930,1275 M905,1150 C898,1180 893,1210 895,1240 C896,1258 905,1268 915,1272 M925,1148 C955,1155 990,1150 1010,1140 C1022,1135 1030,1145 1026,1160 C1012,1178 995,1185 988,1200 C980,1225 970,1255 950,1272 M898,1195 C915,1188 932,1192 948,1205 M896,1232 C915,1225 935,1232 955,1245"/>
<path class="gr2" d="M905,1165 L935,1265 M928,1160 L912,1265 M990,1165 C1005,1170 1015,1165 1022,1155"/>
<path d="M870,955L905,942L940,945L970,960L990,985L1000,1020L1008,1060L1015,1095L1015,1125L1000,1135L970,1135L940,1130L915,1120L890,1112L860,1110L840,1100L825,1085L825,1055L840,1030L855,1000L862,970Z" fill="url(#hx)"/>
<path d="M870,955L905,942L940,945L970,960L990,985L1000,1020L1008,1060L1015,1095L1015,1125L1000,1135L970,1135L940,1130L915,1120L890,1112L860,1110L840,1100L825,1085L825,1055L840,1030L855,1000L862,970Z" fill="url(#hx3)" opacity="0.7"/>
<path d="M870,955L905,942L940,945L970,960L990,985L1000,1020L1008,1060L1015,1095L1015,1125L1000,1135L970,1135L940,1130L915,1120L890,1112L860,1110L840,1100L825,1085L825,1055L840,1030L855,1000L862,970Z" fill="url(#hx2)" opacity="0.7"/>
<ellipse cx="850" cy="1050" rx="13" ry="10" fill="#fff" opacity="0.85"/>
<ellipse cx="985" cy="1000" rx="9" ry="13" fill="#fff" opacity="0.8"/>
<ellipse cx="900" cy="990" rx="10" ry="8" fill="#fff" opacity="0.7"/>
<path d="M925,1125 q4,-8 9,0 q4,8 9,0 q4,-8 9,0 q4,8 9,0 q4,-8 9,0 q4,8 9,0 q4,-8 9,0 q4,8 9,0 q4,-8 9,0 q3,6 -1,10 q4,4 0,8" fill="none" stroke="#35b3c4" stroke-width="3.5"/>
<path d="M915,1128 l6,8 l8,-2 l6,4 M928,1138 l10,2 l6,-6" fill="none" stroke="#cc2020" stroke-width="2"/>
<path d="M916,1150 l8,4 l8,-2" fill="none" stroke="#5a78b8" stroke-width="2"/>
</g>
<text class="lb" x="823" y="1115" text-anchor="end">H353</text>
<text class="lb" x="823" y="1147" text-anchor="end">D38</text>
<text class="lb" x="826" y="1178" text-anchor="end">Q498R</text>
<path class="ar" d="M827,1108L913,1123" marker-end="url(#ah)"/>
<path class="ar" d="M827,1140H929" marker-end="url(#ah)"/>
<path class="ar" d="M830,1172L913,1155" marker-end="url(#ah)"/>
</svg>
</body></html>
